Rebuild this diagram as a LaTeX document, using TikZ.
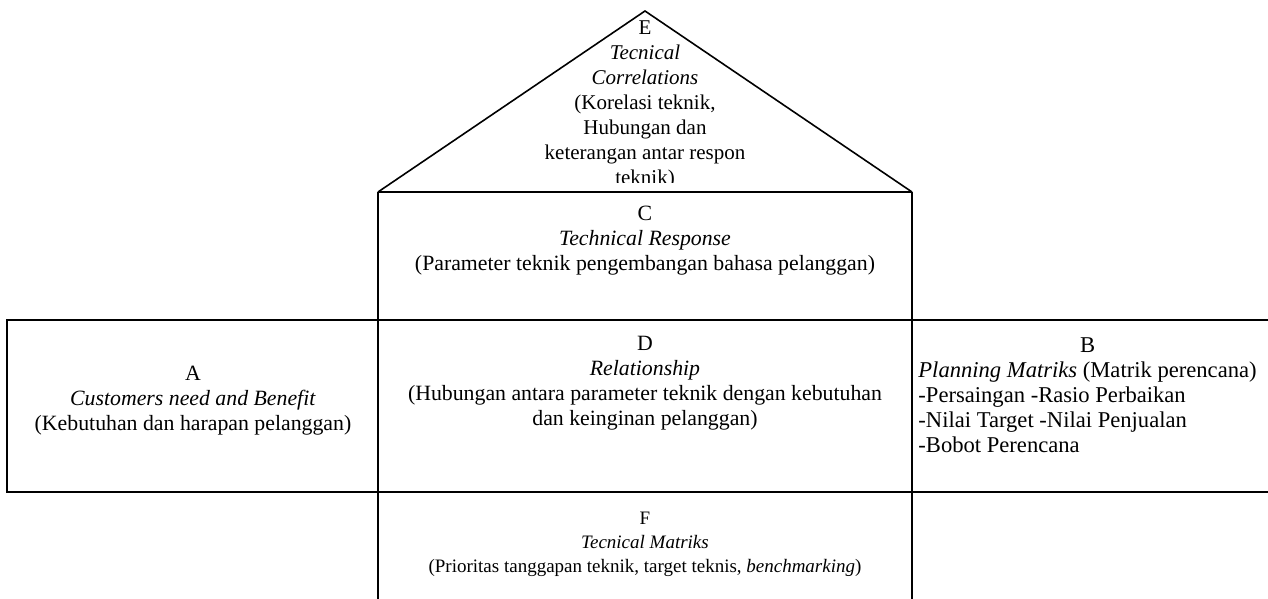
\documentclass[tikz,border=0pt]{standalone}
\usepackage{fontspec}
\setmainfont{Liberation Serif}
\usetikzlibrary{positioning}

\begin{document}
\begin{tikzpicture}[x=0.5pt, y=-0.5pt,
    wall/.style={line width=1pt},
    roof/.style={line width=0.8pt, line join=miter},
    txt/.style={align=center, inner sep=0pt,
                font=\fontsize{10.9}{12.5}\selectfont},
    bigtxt/.style={inner sep=0pt,
                font=\fontsize{11.3}{12.5}\selectfont},
    smalltxt/.style={align=center, inner sep=0pt,
                font=\fontsize{9.5}{12}\selectfont}]
  \useasboundingbox (0,0) rectangle (1268,599);

  % House corners
  \coordinate (apex) at (645,11);
  \coordinate (eaveL) at (378,192);
  \coordinate (eaveR) at (912,192);
  \coordinate (floorL) at (378,599);
  \coordinate (floorR) at (912,599);

  % Roof (E)
  \draw[roof] (eaveL) -- (apex) -- (eaveR);
  \draw[wall] (eaveL) -- (eaveR);
  \begin{scope}
    \clip (0,0) rectangle (1268,182);
    \node[txt, font=\fontsize{10.5}{12.5}\selectfont, anchor=north] (secE) at (645,20)
      {E\\ \textit{Tecnical}\\ \textit{Correlations}\\ (Korelasi teknik,\\
       Hubungan dan\\ keterangan antar respon\\ teknik)};
  \end{scope}

  % Walls of the middle column (C, D, F)
  \draw[wall] (eaveL) -- (floorL);
  \draw[wall] (eaveR) -- (floorR);
  \draw[wall] (378,320) -- (1268,320);
  \draw[wall] (378,492) -- (1268,492);

  % Left room (A)
  \draw[wall] (7,320) rectangle (378,492);

  \node[txt, anchor=north] (secC) at (645,206)
    {C\\ \textit{Technical Response}\\
     (Parameter teknik pengembangan bahasa pelanggan)};
  \node[txt, anchor=north] (secD) at (645,336)
    {D\\ \textit{Relationship}\\
     (Hubungan antara parameter teknik dengan kebutuhan\\
     dan keinginan pelanggan)};
  \node[txt, anchor=north] (secA) at (193,366)
    {A\\ \textit{Customers need and Benefit}\\
     (Kebutuhan dan harapan pelanggan)};

  % Right room (B)
  \node[bigtxt, align=left, anchor=north west] (listB) at (918,361)
    {\textit{Planning Matriks} (Matrik perencana)\\
     -Persaingan -Rasio Perbaikan\\
     -Nilai Target -Nilai Penjualan\\
     -Bobot Perencana};
  \node[bigtxt, above=4pt of listB.north] (secB) {B};

  % Basement (F)
  \node[smalltxt, anchor=north] (secF) at (645,512)
    {F\\ \textit{Tecnical Matriks}\\
     (Prioritas tanggapan teknik, target teknis, \textit{benchmarking})};
\end{tikzpicture}
\end{document}
